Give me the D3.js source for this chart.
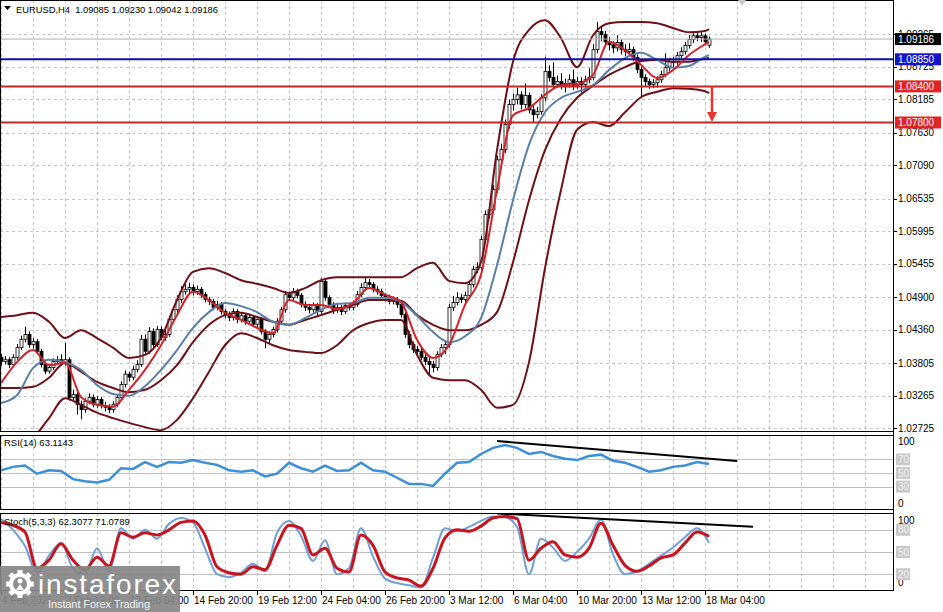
<!DOCTYPE html>
<html><head><meta charset="utf-8">
<script src="https://cdn.jsdelivr.net/npm/d3@7"></script>
<style>body{margin:0;background:#fff;}svg{display:block;}text{font-family:"Liberation Sans",Arial,sans-serif;white-space:pre;}</style>
</head><body><svg id="c" width="943" height="612"></svg>
<script>
// ---------------- DATA ----------------
const symbolTitle = "EURUSD,H4  1.09085 1.09230 1.09042 1.09186";
const timeLabels = ["4 Feb 2025","7 Feb 12:00","12 Feb 04:00","14 Feb 20:00","19 Feb 12:00","24 Feb 04:00","26 Feb 20:00","3 Mar 12:00","6 Mar 04:00","10 Mar 20:00","13 Mar 12:00","18 Mar 04:00"];
const priceTicks = [1.09265,1.08725,1.08185,1.07630,1.07090,1.06535,1.05995,1.05455,1.04900,1.04360,1.03805,1.03265,1.02725];

const closeP = [1.0383,1.0386,1.0378,1.0390,1.0406,1.0420,1.0428,1.0411,1.0416,1.0400,
1.0378,1.0367,1.0373,1.0383,1.0386,1.0381,1.0386,1.0323,1.0328,1.0312,
1.0303,1.0317,1.0323,1.0312,1.0320,1.0310,1.0307,1.0303,1.0312,1.0323,
1.0345,1.0362,1.0357,1.0370,1.0378,1.0420,1.0400,1.0433,1.0411,1.0436,
1.0423,1.0428,1.0453,1.0469,1.0486,1.0499,1.0503,1.0506,1.0499,1.0503,
1.0494,1.0486,1.0483,1.0473,1.0478,1.0466,1.0461,1.0456,1.0466,1.0453,
1.0459,1.0450,1.0456,1.0445,1.0453,1.0433,1.0420,1.0428,1.0436,1.0450,
1.0469,1.0494,1.0489,1.0499,1.0493,1.0478,1.0473,1.0469,1.0476,1.0466,
1.0516,1.0489,1.0478,1.0469,1.0473,1.0466,1.0476,1.0473,1.0478,1.0494,
1.0506,1.0514,1.0511,1.0503,1.0499,1.0493,1.0489,1.0483,1.0486,1.0478,
1.0461,1.0428,1.0411,1.0403,1.0400,1.0390,1.0383,1.0378,1.0373,1.0395,
1.0406,1.0411,1.0473,1.0481,1.0489,1.0486,1.0493,1.0511,1.0536,1.0539,
1.0586,1.0627,1.0635,1.0669,1.0718,1.0735,1.0777,1.0810,1.0818,1.0826,
1.0810,1.0825,1.0801,1.0793,1.0798,1.0821,1.0865,1.0855,1.0843,1.0848,
1.0841,1.0845,1.0851,1.0841,1.0848,1.0843,1.0851,1.0855,1.0901,1.0931,
1.0926,1.0914,1.0909,1.0904,1.0913,1.0901,1.0898,1.0901,1.0888,1.0868,
1.0855,1.0848,1.0843,1.0846,1.0851,1.0860,1.0871,1.0881,1.0881,1.0891,
1.0898,1.0908,1.0918,1.0924,1.0921,1.0924,1.0914,1.09186];

const openP = [1.0390,1.0383,1.0386,1.0378,1.0390,1.0406,1.0420,1.0428,1.0411,1.0416,
1.0400,1.0378,1.0367,1.0373,1.0383,1.0386,1.0381,1.0386,1.0323,1.0328,
1.0312,1.0303,1.0317,1.0323,1.0312,1.0320,1.0310,1.0307,1.0303,1.0312,
1.0323,1.0345,1.0362,1.0357,1.0370,1.0378,1.0420,1.0400,1.0433,1.0411,
1.0436,1.0423,1.0428,1.0453,1.0469,1.0486,1.0499,1.0503,1.0506,1.0499,
1.0503,1.0494,1.0486,1.0483,1.0473,1.0478,1.0466,1.0461,1.0456,1.0466,
1.0453,1.0459,1.0450,1.0456,1.0445,1.0453,1.0433,1.0420,1.0428,1.0436,
1.0450,1.0469,1.0494,1.0489,1.0499,1.0493,1.0478,1.0473,1.0469,1.0476,
1.0466,1.0516,1.0489,1.0478,1.0469,1.0473,1.0466,1.0476,1.0473,1.0478,
1.0494,1.0506,1.0514,1.0511,1.0503,1.0499,1.0493,1.0489,1.0483,1.0486,
1.0478,1.0461,1.0428,1.0411,1.0403,1.0400,1.0390,1.0383,1.0378,1.0373,
1.0395,1.0406,1.0411,1.0473,1.0481,1.0489,1.0486,1.0493,1.0511,1.0536,
1.0539,1.0586,1.0627,1.0635,1.0669,1.0718,1.0735,1.0777,1.0810,1.0818,
1.0826,1.0810,1.0825,1.0801,1.0793,1.0798,1.0821,1.0865,1.0855,1.0843,
1.0848,1.0841,1.0845,1.0851,1.0841,1.0848,1.0843,1.0851,1.0855,1.0901,
1.0931,1.0926,1.0914,1.0909,1.0904,1.0913,1.0901,1.0898,1.0901,1.0888,
1.0868,1.0855,1.0848,1.0843,1.0846,1.0851,1.0860,1.0871,1.0881,1.0881,
1.0891,1.0898,1.0908,1.0918,1.0924,1.0921,1.0924,1.09085];

const highP = [1.0396,1.0392,1.0390,1.0395,1.0412,1.0426,1.0441,1.0433,1.0422,1.0420,
1.0404,1.0383,1.0379,1.0388,1.0392,1.0395,1.0414,1.0390,1.0336,1.0333,
1.0318,1.0322,1.0330,1.0328,1.0326,1.0324,1.0316,1.0312,1.0317,1.0328,
1.0350,1.0368,1.0366,1.0376,1.0385,1.0427,1.0428,1.0440,1.0438,1.0442,
1.0441,1.0435,1.0459,1.0475,1.0493,1.0508,1.0512,1.0514,1.0511,1.0509,
1.0507,1.0498,1.0490,1.0487,1.0484,1.0482,1.0470,1.0466,1.0471,1.0470,
1.0465,1.0463,1.0462,1.0460,1.0458,1.0457,1.0437,1.0433,1.0441,1.0455,
1.0474,1.0500,1.0499,1.0505,1.0504,1.0497,1.0483,1.0478,1.0481,1.0480,
1.0522,1.0520,1.0493,1.0482,1.0479,1.0477,1.0481,1.0480,1.0484,1.0500,
1.0513,1.0522,1.0520,1.0515,1.0508,1.0504,1.0497,1.0494,1.0491,1.0490,
1.0482,1.0465,1.0433,1.0416,1.0409,1.0405,1.0395,1.0389,1.0384,1.0400,
1.0412,1.0418,1.0479,1.0492,1.0498,1.0495,1.0499,1.0517,1.0542,1.0548,
1.0592,1.0634,1.0645,1.0676,1.0725,1.0745,1.0785,1.0818,1.0828,1.0838,
1.0832,1.0845,1.0830,1.0808,1.0806,1.0827,1.0889,1.0875,1.0880,1.0858,
1.0862,1.0853,1.0860,1.0868,1.0856,1.0855,1.0858,1.0870,1.0910,1.0947,
1.0940,1.0932,1.0922,1.0915,1.0925,1.0918,1.0910,1.0912,1.0906,1.0893,
1.0872,1.0860,1.0853,1.0852,1.0857,1.0866,1.0895,1.0887,1.0889,1.0897,
1.0905,1.0914,1.0925,1.0932,1.0930,1.0930,1.0928,1.09230];

const lowP = [1.0376,1.0378,1.0372,1.0375,1.0386,1.0402,1.0415,1.0406,1.0405,1.0395,
1.0373,1.0362,1.0363,1.0369,1.0378,1.0376,1.0376,1.0318,1.0316,1.0295,
1.0287,1.0298,1.0312,1.0307,1.0306,1.0305,1.0300,1.0297,1.0298,1.0307,
1.0318,1.0340,1.0350,1.0352,1.0365,1.0374,1.0394,1.0396,1.0405,1.0407,
1.0418,1.0417,1.0424,1.0448,1.0464,1.0480,1.0494,1.0496,1.0493,1.0494,
1.0488,1.0481,1.0477,1.0468,1.0468,1.0461,1.0455,1.0450,1.0451,1.0447,
1.0448,1.0444,1.0445,1.0440,1.0440,1.0428,1.0405,1.0414,1.0423,1.0431,
1.0445,1.0464,1.0484,1.0484,1.0488,1.0473,1.0467,1.0463,1.0464,1.0460,
1.0462,1.0484,1.0472,1.0462,1.0464,1.0460,1.0462,1.0468,1.0468,1.0474,
1.0490,1.0501,1.0505,1.0498,1.0494,1.0488,1.0483,1.0478,1.0478,1.0472,
1.0456,1.0422,1.0405,1.0397,1.0393,1.0385,1.0377,1.0362,1.0365,1.0368,
1.0390,1.0395,1.0406,1.0467,1.0476,1.0480,1.0481,1.0488,1.0506,1.0530,
1.0534,1.0580,1.0620,1.0629,1.0663,1.0710,1.0729,1.0770,1.0800,1.0810,
1.0802,1.0804,1.0795,1.0780,1.0787,1.0793,1.0815,1.0848,1.0836,1.0838,
1.0835,1.0830,1.0838,1.0834,1.0836,1.0830,1.0838,1.0845,1.0850,1.0895,
1.0915,1.0905,1.0900,1.0895,1.0898,1.0893,1.0890,1.0891,1.0882,1.0862,
1.0823,1.0840,1.0836,1.0837,1.0838,1.0846,1.0855,1.0866,1.0872,1.0876,
1.0886,1.0893,1.0903,1.0912,1.0915,1.0914,1.0908,1.09042];

// indicator values read every 4 bars (+ last bar)
const bbUpper = [1.0457,1.0460,1.0464,1.0449,1.0422,1.0435,1.0422,1.0406,1.0389,1.0394,
1.0422,1.0485,1.0532,1.0538,1.0530,1.0518,1.0512,1.0505,1.0497,1.0505,
1.0518,1.0523,1.0523,1.0523,1.0523,1.0523,1.0538,1.0547,1.0517,1.0513,
1.0548,1.0734,1.0881,1.0934,1.0950,1.0920,1.0872,1.0925,1.0945,1.0947,
1.0947,1.0945,1.0937,1.0930,1.0932,1.0935];
const bbLower = [1.0236,1.0244,1.0256,1.0289,1.0322,1.0311,1.0298,1.0289,1.0281,1.0274,
1.0269,1.0286,1.0322,1.0366,1.0410,1.0430,1.0422,1.0410,1.0402,1.0399,
1.0397,1.0410,1.0435,1.0447,1.0452,1.0452,1.0394,1.0356,1.0352,1.0352,
1.0336,1.0306,1.0311,1.0382,1.0538,1.0668,1.0768,1.0781,1.0774,1.0797,
1.0822,1.0831,1.0837,1.0836,1.0832,1.0829];
const bbMiddle = [1.0339,1.0339,1.0341,1.0356,1.0381,1.0366,1.0349,1.0339,1.0332,1.0336,
1.0352,1.0377,1.0415,1.0444,1.0460,1.0464,1.0457,1.0449,1.0444,1.0452,
1.0460,1.0469,1.0477,1.0485,1.0485,1.0484,1.0460,1.0444,1.0435,1.0435,
1.0444,1.0465,1.0548,1.0651,1.0734,1.0787,1.0821,1.0841,1.0859,1.0872,
1.0882,1.0884,1.0881,1.0881,1.0886,1.0887];
const blueMA = [1.0314,1.0327,1.0372,1.0386,1.0382,1.0369,1.0344,1.0329,1.0326,1.0342,
1.0369,1.0402,1.0439,1.0465,1.0480,1.0475,1.0465,1.0449,1.0444,1.0455,
1.0469,1.0479,1.0480,1.0489,1.0489,1.0482,1.0459,1.0432,1.0415,1.0425,
1.0455,1.0543,1.0651,1.0743,1.0797,1.0821,1.0831,1.0842,1.0867,1.0887,
1.0896,1.0884,1.0871,1.0874,1.0889,1.0892];
const redMA = [1.0347,1.0382,1.0402,1.0377,1.0381,1.0324,1.0311,1.0308,1.0336,1.0369,
1.0410,1.0460,1.0499,1.0485,1.0464,1.0452,1.0439,1.0430,1.0485,1.0477,
1.0477,1.0470,1.0480,1.0505,1.0494,1.0482,1.0419,1.0389,1.0410,1.0477,
1.0527,1.0668,1.0792,1.0804,1.0826,1.0842,1.0844,1.0859,1.0914,1.0900,
1.0876,1.0854,1.0867,1.0892,1.0910,1.0914];

// oscillators read every 3 bars
const rsiVals = [54,59,61,49,54,53,41,38,36,40,57,56,66,59,66,65,69,65,62,54,
52,54,45,49,65,57,52,61,53,54,65,54,52,43,34,34,31,49,65,66,
78,87,91,87,78,81,75,71,69,75,77,68,65,59,52,54,59,61,66,63.1143];
const stochK = [95,80,58,22,45,62,28,20,55,24,82,68,80,68,88,96,90,55,20,16,
22,34,24,76,92,72,38,66,20,28,82,44,14,8,5,2,42,82,78,84,
92,98,97,84,20,68,56,38,50,68,94,47,20,24,34,45,56,70,82,62.3077];
const stochD = [90,86,77,28,39,61,39,26,43,31,76,70,76,73,80,90,92,73,30,22,
20,30,26,59,86,82,46,55,28,23,73,59,23,15,12,4,28,69,80,78,
85,96,98,95,39,55,64,46,43,55,89,59,32,24,31,42,46,62,77,71.0789];

const levelBlue = 1.08850;
const levelsRed = [1.08400, 1.07800];
const bidPrice = 1.09186;
const rsiTrend = [[124, 97], [184, 67.6]];
const stochTrend = [[124, 102], [188, 84]];
const arrowBar = 177.75, arrowFrom = 1.0840, arrowTo = 1.0781;
const rsiLevels = [70, 50, 30];
const stochLevels = [80, 50, 20];

// ---------------- CHART ----------------
const svg = d3.select("#c");
const W = 943, AX = 893;
const P = {main:[0,432], rsi:[435,510], sto:[513,591]};
const nBars = closeP.length;
const xS = d3.scaleLinear().domain([0,223]).range([1,AX]);
const yP = d3.scaleLinear().domain([1.02659,1.09835]).range([432,0]);
const yR = d3.scaleLinear().domain([0,100]).range([507,439]);
const yS = d3.scaleLinear().domain([0,100]).range([589,515]);
const indBars = d3.range(0, nBars-1, 4).concat([nBars-1]);
const oscBars = d3.range(0, nBars, 3);

svg.append("rect").attr("width",W).attr("height",612).attr("fill","#fff");
const defs = svg.append("defs");
Object.entries(P).forEach(([k,[a,b]])=>{
  defs.append("clipPath").attr("id","clip-"+k).append("rect").attr("x",0).attr("y",a).attr("width",AX).attr("height",b-a);
});

// grids
const gridC = "#c4c4c4";
Object.entries(P).forEach(([k,[a,b]])=>{
  const g = svg.append("g").attr("clip-path","url(#clip-"+k+")");
  d3.range(0,224,8).forEach(i=>{
    g.append("line").attr("x1",Math.round(xS(i))+0.5).attr("x2",Math.round(xS(i))+0.5).attr("y1",a).attr("y2",b)
      .attr("stroke",gridC).attr("stroke-dasharray","3,3");
  });
});
priceTicks.forEach(v=>{
  const y = Math.round(yP(v))+0.5;
  svg.append("line").attr("x1",0).attr("x2",AX).attr("y1",y).attr("y2",y).attr("stroke",gridC).attr("stroke-dasharray","3,3");
});
rsiLevels.forEach(v=>{
  const y = Math.round(yR(v))+0.5;
  svg.append("line").attr("x1",0).attr("x2",AX).attr("y1",y).attr("y2",y).attr("stroke","#c0c0c0");
});
stochLevels.forEach(v=>{
  const y = Math.round(yS(v))+0.5;
  svg.append("line").attr("x1",0).attr("x2",AX).attr("y1",y).attr("y2",y).attr("stroke","#c0c0c0");
});

// candles
const gm = svg.append("g").attr("clip-path","url(#clip-main)");
for (let i=0;i<nBars;i++){
  const x = Math.round(xS(i));
  const o=openP[i], c=closeP[i];
  gm.append("line").attr("x1",x+0.5).attr("x2",x+0.5).attr("y1",yP(highP[i])).attr("y2",yP(lowP[i])).attr("stroke","#000").attr("stroke-width",1);
  const top = yP(Math.max(o,c)), bot = yP(Math.min(o,c));
  const h = Math.max(1, bot-top);
  gm.append("rect").attr("x",x-1).attr("y",top).attr("width",3).attr("height",h)
    .attr("fill", c>=o ? "#fff" : "#000").attr("stroke","#000").attr("stroke-width",0.8);
}

// indicator lines
const lineInd = d3.line().x((d,k)=>xS(indBars[k])).y(d=>yP(d)).curve(d3.curveMonotoneX);
const maroon = "#6e1016";
[[bbUpper,maroon,2],[bbLower,maroon,2],[bbMiddle,maroon,2],[blueMA,"#5a7ea6",2],[redMA,"#d2232a",2]].forEach(([arr,col,w])=>{
  gm.append("path").attr("d",lineInd(arr)).attr("fill","none").attr("stroke",col).attr("stroke-width",w);
});

// horizontal levels
svg.append("line").attr("x1",0).attr("x2",AX).attr("y1",yP(bidPrice)).attr("y2",yP(bidPrice)).attr("stroke","#b0b0b0").attr("stroke-width",1);
svg.append("line").attr("x1",0).attr("x2",AX).attr("y1",yP(levelBlue)).attr("y2",yP(levelBlue)).attr("stroke","#1010a0").attr("stroke-width",2);
levelsRed.forEach(v=>{
  svg.append("line").attr("x1",0).attr("x2",AX).attr("y1",yP(v)).attr("y2",yP(v)).attr("stroke","#c0282a").attr("stroke-width",2);
});

// arrow
const ax = xS(arrowBar);
svg.append("line").attr("x1",ax).attr("x2",ax).attr("y1",yP(arrowFrom)).attr("y2",yP(arrowTo)-8).attr("stroke","#e8352c").attr("stroke-width",2.5);
svg.append("path").attr("d",`M${ax-5},${yP(arrowTo)-10} L${ax+5},${yP(arrowTo)-10} L${ax},${yP(arrowTo)} Z`).attr("fill","#e8352c");

// RSI
const gr = svg.append("g").attr("clip-path","url(#clip-rsi)");
gr.append("path").attr("d", d3.line().x((d,k)=>xS(oscBars[k])).y(d=>yR(d))(rsiVals)).attr("fill","none").attr("stroke","#3d8fd8").attr("stroke-width",2.5);
gr.append("line").attr("x1",xS(rsiTrend[0][0])).attr("y1",yR(rsiTrend[0][1])).attr("x2",xS(rsiTrend[1][0])).attr("y2",yR(rsiTrend[1][1])).attr("stroke","#000").attr("stroke-width",2);

// Stoch
const gs = svg.append("g").attr("clip-path","url(#clip-sto)");
const lineS = d3.line().x((d,k)=>xS(oscBars[k])).y(d=>yS(d)).curve(d3.curveMonotoneX);
gs.append("path").attr("d",lineS(stochK)).attr("fill","none").attr("stroke","#6f9fd6").attr("stroke-width",2);
gs.append("path").attr("d",lineS(stochD)).attr("fill","none").attr("stroke","#c8141e").attr("stroke-width",3);
gs.append("line").attr("x1",xS(stochTrend[0][0])).attr("y1",yS(stochTrend[0][1])).attr("x2",xS(stochTrend[1][0])).attr("y2",yS(stochTrend[1][1])).attr("stroke","#000").attr("stroke-width",2);

// frames
Object.values(P).forEach(([a,b])=>{
  svg.append("rect").attr("x",0.5).attr("y",a+0.5).attr("width",AX).attr("height",b-a-1).attr("fill","none").attr("stroke","#000");
});
svg.append("line").attr("x1",AX+0.5).attr("x2",AX+0.5).attr("y1",0).attr("y2",591).attr("stroke","#000");

// price axis labels
const fs = "10px";
priceTicks.forEach(v=>{
  const y = yP(v);
  svg.append("line").attr("x1",AX).attr("x2",AX+4).attr("y1",Math.round(y)+0.5).attr("y2",Math.round(y)+0.5).attr("stroke","#000");
  svg.append("text").attr("x",898).attr("y",y+3.5).attr("font-size",fs).attr("fill","#000").text(v.toFixed(5));
});
function tag(v, bg, fg){
  const y = yP(v);
  svg.append("rect").attr("x",895).attr("y",y-6).attr("width",46).attr("height",12).attr("fill",bg);
  svg.append("text").attr("x",898).attr("y",y+3.5).attr("font-size",fs).attr("fill",fg).text(v.toFixed(5));
}
tag(bidPrice,"#000","#fff");
tag(levelBlue,"#1414c8","#fff");
levelsRed.forEach(v=>tag(v,"#e02424","#fff"));

// oscillator axis labels
function oscLabels(scale, levels, topOff, botOff){
  svg.append("text").attr("x",898).attr("y",scale(100)+topOff).attr("font-size",fs).text("100");
  svg.append("text").attr("x",898).attr("y",scale(0)+botOff).attr("font-size",fs).text("0");
  levels.forEach(v=>{
    const y = scale(v);
    svg.append("rect").attr("x",896).attr("y",y-6).attr("width",14).attr("height",12).attr("fill","#c9c9c9");
    svg.append("text").attr("x",898).attr("y",y+3.5).attr("font-size",fs).attr("fill","#f2f2f2").text(v);
  });
}
oscLabels(yR, rsiLevels, 5.5, -0.5);
oscLabels(yS, stochLevels, 8.5, -3.5);

// panel titles
svg.append("path").attr("d","M4,6 L11,6 L7.5,10 Z").attr("fill","#000");
svg.append("text").attr("x",16).attr("y",13).attr("font-size","9.5px").attr("textLength",202).attr("lengthAdjust","spacingAndGlyphs").text(symbolTitle);
svg.append("text").attr("x",4).attr("y",446).attr("font-size","9.5px").text("RSI(14) " + rsiVals[rsiVals.length-1].toFixed(4));
svg.append("text").attr("x",4).attr("y",525).attr("font-size","9.5px").text("Stoch(5,3,3) " + stochK[stochK.length-1].toFixed(4) + " " + stochD[stochD.length-1].toFixed(4));

// time axis
timeLabels.forEach((t,k)=>{
  const x = Math.round(xS(k*16));
  svg.append("line").attr("x1",x+0.5).attr("x2",x+0.5).attr("y1",591).attr("y2",595).attr("stroke","#000");
  svg.append("text").attr("x",x+1).attr("y",604).attr("font-size",fs).text(t);
});

// chart shift marker
const sx = xS(185.25);
svg.append("path").attr("d",`M${sx-4},0 L${sx+4},0 L${sx},6 Z`).attr("fill","#c8c8c8");

// logo
const lg = svg.append("g");
lg.append("rect").attr("x",0).attr("y",566).attr("width",180).attr("height",46).attr("fill","#858585").attr("opacity",0.92);
const cx=20, cy=584;
d3.range(8).forEach(k=>{
  const a = k*45;
  lg.append("rect").attr("x",cx-2.5).attr("y",cy-14).attr("width",5).attr("height",6).attr("fill","#fff")
    .attr("transform",`rotate(${a},${cx},${cy})`);
});
lg.append("circle").attr("cx",cx).attr("cy",cy).attr("r",9).attr("fill","none").attr("stroke","#fff").attr("stroke-width",4);
lg.append("circle").attr("cx",cx).attr("cy",cy-3).attr("r",2.5).attr("fill","#fff");
lg.append("path").attr("d",`M${cx-4},${cy+6} L${cx},${cy} L${cx+4},${cy+6} Z`).attr("fill","#fff");
lg.append("text").attr("x",38).attr("y",594).attr("font-size","28px").attr("font-family","Lato, 'Open Sans', sans-serif").attr("font-weight","300").attr("fill","#fff").attr("textLength",138).text("instaforex");
lg.append("text").attr("x",48).attr("y",608).attr("font-size","11px").attr("fill","#f0f0f0").attr("textLength",102).text("Instant Forex Trading");
</script>
</body></html>
